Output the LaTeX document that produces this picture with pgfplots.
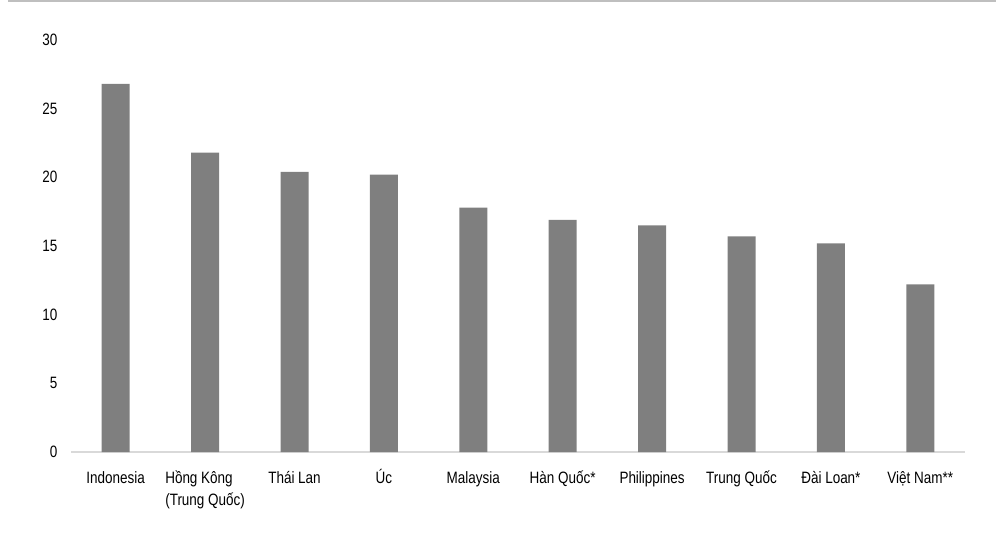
\documentclass[border=0pt]{standalone}
\usepackage{pgfplots}
\pgfplotsset{compat=1.18}
\usepackage{fontspec}
\setmainfont{Liberation Sans}[FakeStretch=0.82]

\definecolor{barcol}{HTML}{7F7F7F}
\definecolor{axcol}{HTML}{D9D9D9}
\definecolor{topcol}{HTML}{BFBFBF}

% same top for every label, whatever its accents
\newcommand{\R}{\rule{0pt}{16bp}}

\begin{document}
\begin{tikzpicture}
% page is 996 x 547 px, axis box from (71,452) to (965,40)
\useasboundingbox (-71bp,-95bp) rectangle (925bp,452bp);
\draw[topcol, line width=1.2bp] (-63bp,451bp) -- (925bp,451bp);
\begin{axis}[
    scale only axis,
    width=894bp, height=412bp,
    xmin=-0.5, xmax=9.5,
    ymin=0, ymax=30,
    ytick={0,5,10,15,20,25,30},
    xtick=data,
    xticklabels={\R Indonesia, {\R Hồng Kông\\(Trung Quốc)}, \R Thái Lan, \R Úc, \R Malaysia,
                 \R Hàn Quốc*, \R Philippines, \R Trung Quốc, \R Đài Loan*, \R Việt Nam**},
    axis x line*=bottom,
    axis y line*=left,
    y axis line style={draw=none},
    x axis line style={draw=axcol, line width=1.5bp, -},
    major tick length=0pt,
    tick label style={font=\fontsize{16.5}{22}\selectfont, text=black},
    xticklabel style={align=left, yshift=-12bp},
    yticklabel style={xshift=-10bp},
    /pgf/number format/assume math mode=true,
    ybar, bar width=28bp,
]
\addplot[fill=barcol, draw=none] coordinates {
    (0,26.8) (1,21.8) (2,20.4) (3,20.2) (4,17.8)
    (5,16.9) (6,16.5) (7,15.7) (8,15.2) (9,12.2)
};
\end{axis}
\end{tikzpicture}
\end{document}
